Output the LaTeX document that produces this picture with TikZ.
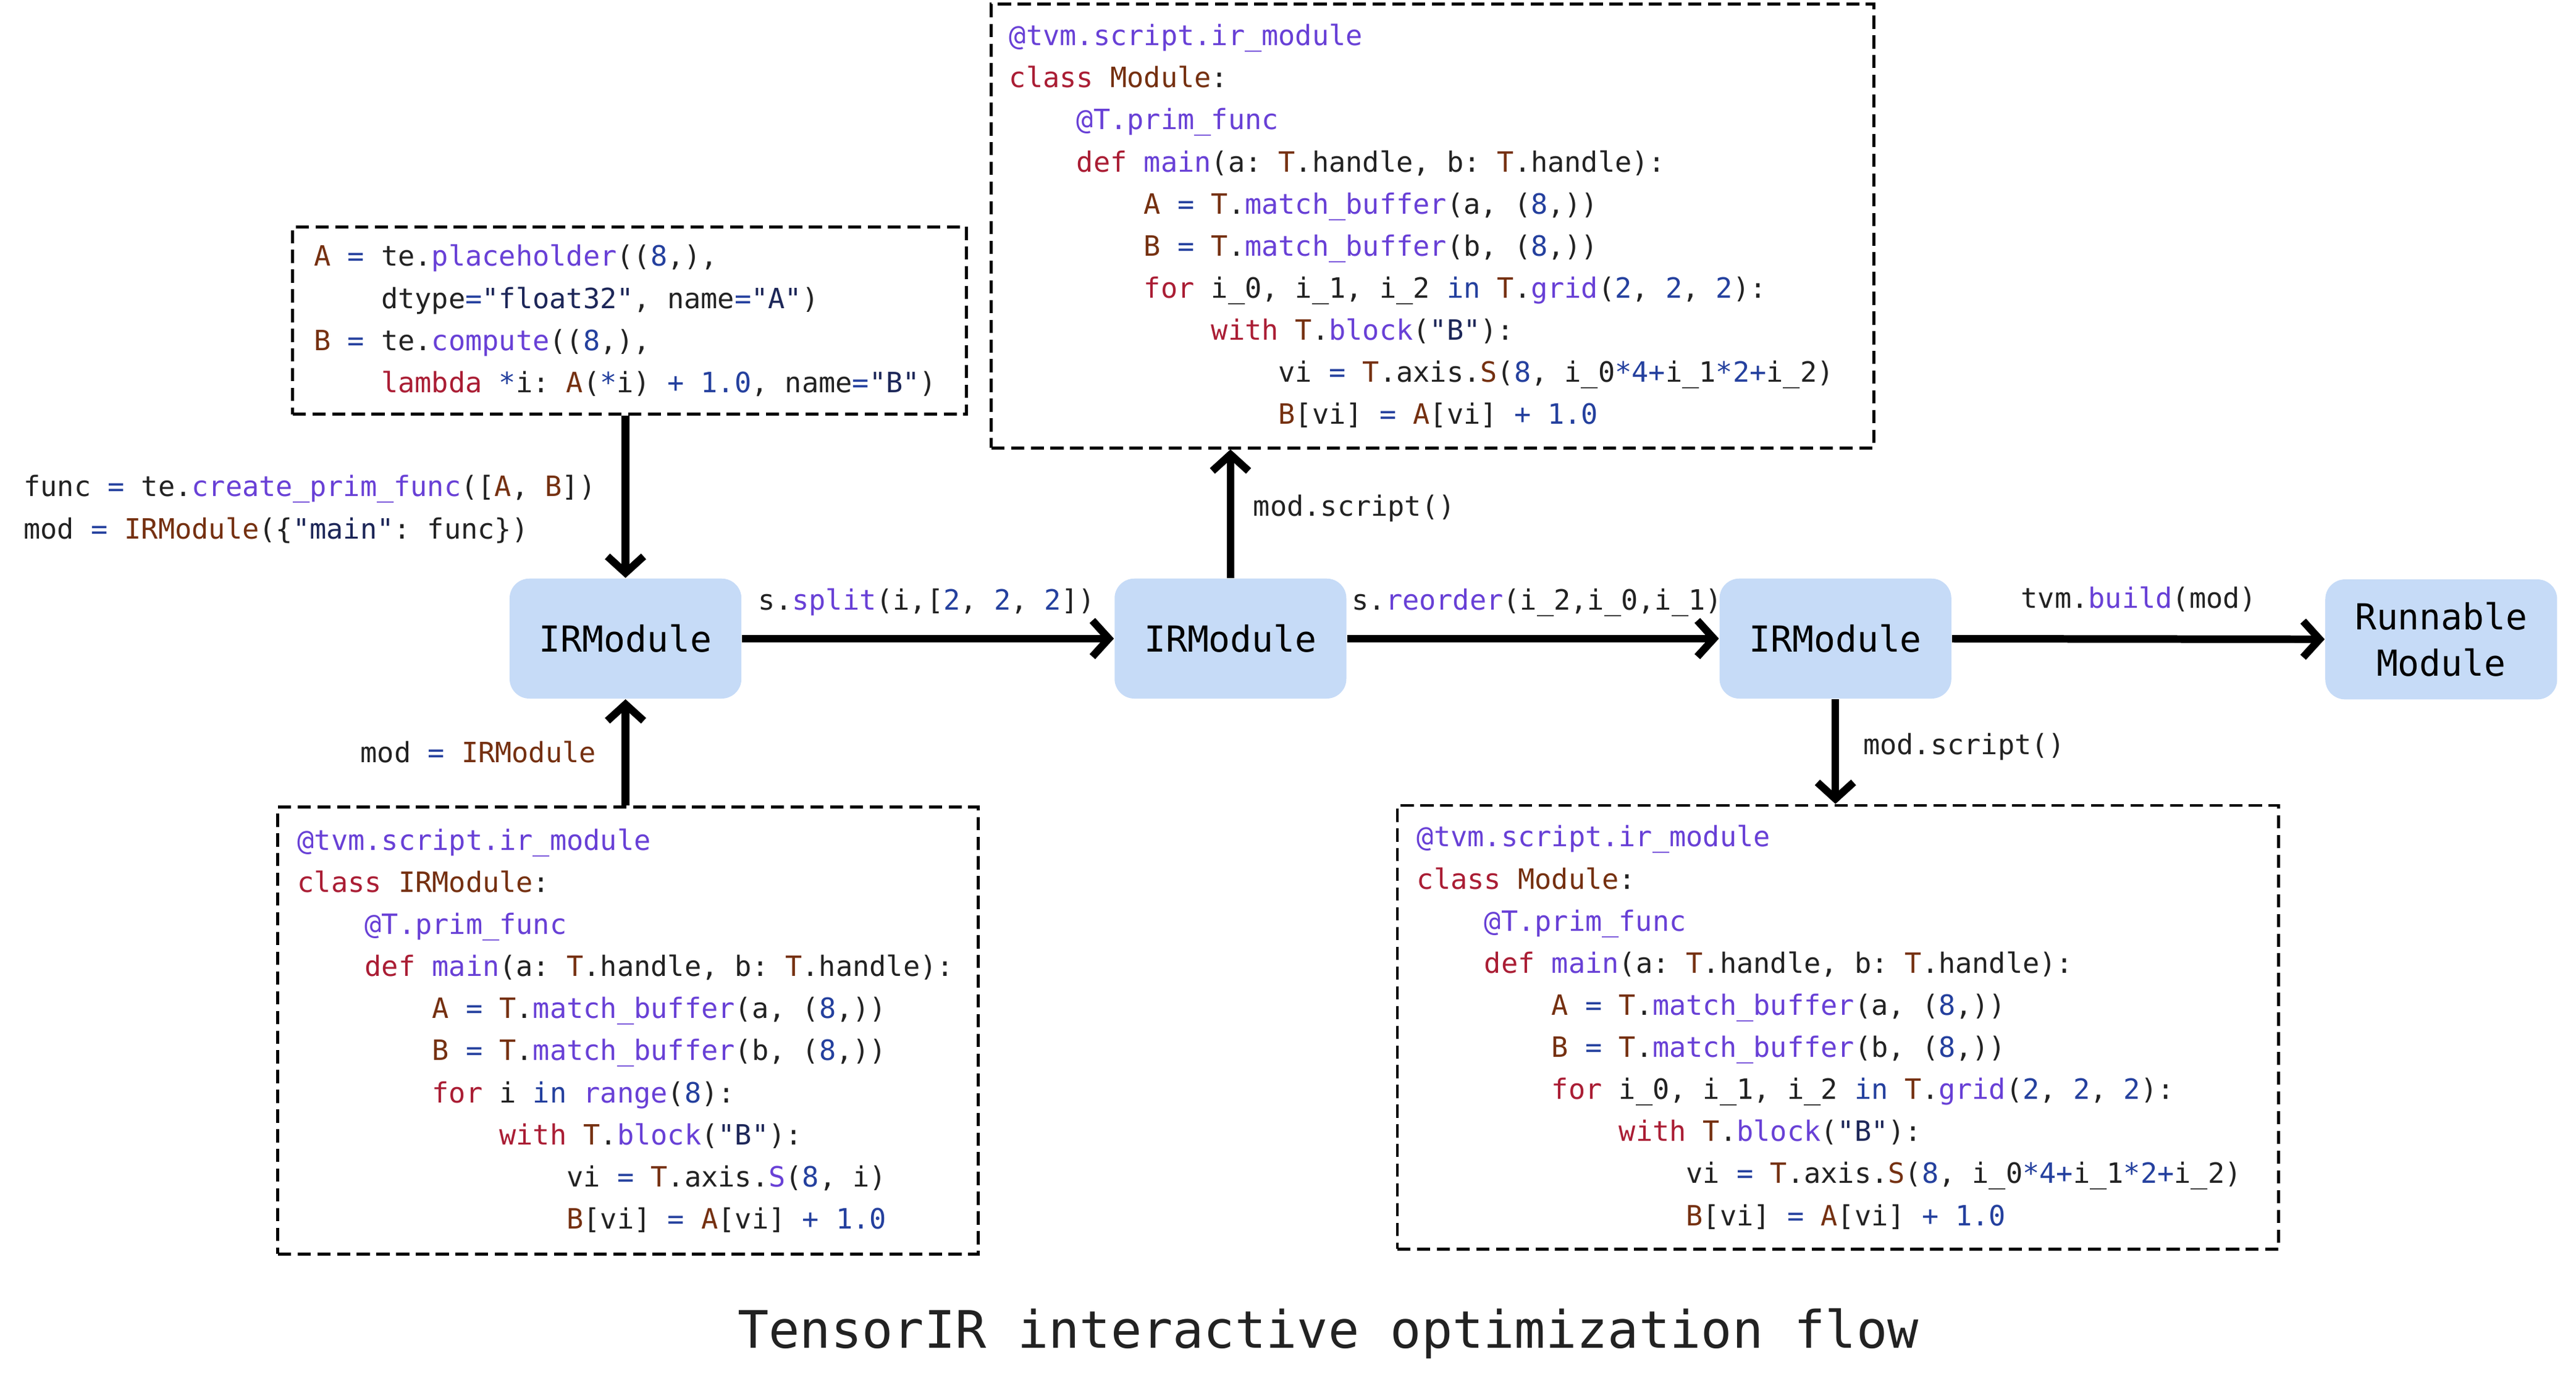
\documentclass[tikz,border=0pt]{standalone}
\usepackage{fontspec}
\usepackage{xcolor}
\usepackage{tikz}
\usetikzlibrary{arrows.meta}
\setmonofont{DejaVu Sans Mono}

\definecolor{kwred}{RGB}{170,29,52}
\definecolor{fnpurple}{RGB}{104,64,214}
\definecolor{tybrown}{RGB}{117,48,16}
\definecolor{numblue}{RGB}{36,64,158}
\definecolor{strnavy}{RGB}{28,38,88}
\definecolor{txtgray}{RGB}{34,34,34}
\definecolor{boxblue}{RGB}{198,219,247}

\newcommand{\kwd}[1]{\textcolor{kwred}{#1}}
\newcommand{\fun}[1]{\textcolor{fnpurple}{#1}}
\newcommand{\typ}[1]{\textcolor{tybrown}{#1}}
\newcommand{\nmb}[1]{\textcolor{numblue}{#1}}
\newcommand{\strg}[1]{\textcolor{strnavy}{#1}}
\newcommand{\ind}{\phantom{xxxx}}
\newcommand{\codefont}{\ttfamily\fontsize{8.5pt}{12.8pt}\selectfont\frenchspacing}
% keep spaces one character wide inside aligned nodes
\newcommand{\monospace}{\spaceskip=\fontcharwd\font`x\relax\xspaceskip=\spaceskip}

% same script printed after split and after reorder
\newcommand{\scriptbody}{%
\fun{@tvm.script.ir\_module}\\
\kwd{class} \typ{Module}:\\
\ind\fun{@T.prim\_func}\\
\ind\kwd{def} \fun{main}(a: \typ{T}.handle, b: \typ{T}.handle):\\
\ind\ind\typ{A} \nmb{=} \typ{T}.\fun{match\_buffer}(a, (\nmb{8},))\\
\ind\ind\typ{B} \nmb{=} \typ{T}.\fun{match\_buffer}(b, (\nmb{8},))\\
\ind\ind\kwd{for} i\_0, i\_1, i\_2 \nmb{in} \typ{T}.\fun{grid}(\nmb{2}, \nmb{2}, \nmb{2}):\\
\ind\ind\ind\kwd{with} \typ{T}.\fun{block}(\strg{"B"}):\\
\ind\ind\ind\ind vi \nmb{=} \typ{T}.axis.\typ{S}(\nmb{8}, i\_0\nmb{*4+}i\_1\nmb{*2+}i\_2)\\
\ind\ind\ind\ind\typ{B}[vi] \nmb{=} \typ{A}[vi] \nmb{+} \nmb{1.0}}

\begin{document}
\begin{tikzpicture}[x=0.5pt, y=-0.5pt,
  codebox/.style={draw, dashed, dash pattern=on 4pt off 2pt, line width=0.9pt, align=left, font=\codefont, text=txtgray, inner ysep=0pt},
  rbox/.style={fill=boxblue, rounded corners=6pt, minimum width=70.5pt, minimum height=36.5pt, inner sep=0pt, font=\ttfamily\fontsize{10.9pt}{14pt}\selectfont},
  lbl/.style={font=\codefont, text=txtgray, inner sep=0pt},
  flowarrow/.style={-{Straight Barb[length=5pt,width=11pt]}, line width=2.3pt}]
  \useasboundingbox (0,0) rectangle (1567,851);

  \node[rbox] (irm1) at (380.5,388.5) {IRModule};
  \node[rbox] (irm2) at (748.5,388.5) {IRModule};
  \node[rbox] (irm3) at (1116.5,388.5) {IRModule};
  \node[rbox, align=center] (run) at (1485,389) {Runnable\\Module};

  \node[codebox, text width=192pt, inner xsep=6.5pt, minimum height=57pt] (te) at (383,195) {\monospace
\typ{A} \nmb{=} te.\fun{placeholder}((\nmb{8},),\\
\ind dtype\nmb{=}\strg{"float32"}, name\nmb{=}\strg{"A"})\\
\typ{B} \nmb{=} te.\fun{compute}((\nmb{8},),\\
\ind\kwd{lambda} \nmb{*}i: \typ{A}(\nmb{*}i) \nmb{+} \nmb{1.0}, name\nmb{=}\strg{"B"})};
  \node[codebox, text width=201pt, inner xsep=6pt, minimum height=136pt] (orig) at (382,627) {\monospace
\fun{@tvm.script.ir\_module}\\
\kwd{class} \typ{IRModule}:\\
\ind\fun{@T.prim\_func}\\
\ind\kwd{def} \fun{main}(a: \typ{T}.handle, b: \typ{T}.handle):\\
\ind\ind\typ{A} \nmb{=} \typ{T}.\fun{match\_buffer}(a, (\nmb{8},))\\
\ind\ind\typ{B} \nmb{=} \typ{T}.\fun{match\_buffer}(b, (\nmb{8},))\\
\ind\ind\kwd{for} i \nmb{in} \fun{range}(\nmb{8}):\\
\ind\ind\ind\kwd{with} \typ{T}.\fun{block}(\strg{"B"}):\\
\ind\ind\ind\ind vi \nmb{=} \typ{T}.axis.\fun{S}(\nmb{8}, i)\\
\ind\ind\ind\ind\typ{B}[vi] \nmb{=} \typ{A}[vi] \nmb{+} \nmb{1.0}};
  \node[codebox, text width=257.5pt, inner xsep=5.5pt, minimum height=135pt] (split) at (871.5,137.5) {\monospace\scriptbody};
  \node[codebox, text width=256pt, inner xsep=6pt, minimum height=135pt] (reord) at (1118,625) {\monospace\scriptbody};

  \node[lbl, anchor=base west] (funcl) at (14,302) {func \nmb{=} te.\fun{create\_prim\_func}([\typ{A}, \typ{B}])};
  \node[lbl, anchor=base west] (modl) at (14,328) {mod \nmb{=} \typ{IRModule}(\{\strg{"main"}: func\})};
  \node[lbl, anchor=base east] (modir) at (363,464) {mod \nmb{=} \typ{IRModule}};
  \node[lbl, anchor=base west] (splitl) at (461,371) {s.\fun{split}(i,[\nmb{2}, \nmb{2}, \nmb{2}])};
  \node[lbl, anchor=base west] (scr1) at (762,314) {mod.script()};
  \node[lbl, anchor=base west] (reordl) at (822,371) {s.\fun{reorder}(i\_2,i\_0,i\_1)};
  \node[lbl, anchor=base west] (buildl) at (1229,370) {tvm.\fun{build}(mod)};
  \node[lbl, anchor=base west] (scr2) at (1133,459) {mod.script()};
  \node[font=\ttfamily\fontsize{15.7pt}{19pt}\selectfont, text=txtgray, anchor=base] (title) at (808,820) {TensorIR interactive optimization flow};

  \draw[flowarrow] (irm1.north |- te.south) -- (irm1.north);
  \draw[flowarrow] (irm1 |- orig.north) -- (irm1.south);
  \draw[flowarrow] (irm1) -- (irm2);
  \draw[flowarrow] (irm2.north) -- (irm2.north |- split.south);
  \draw[flowarrow] (irm2) -- (irm3);
  \draw[flowarrow] (irm3.south) -- (irm3.south |- reord.north);
  \draw[flowarrow] (irm3) -- (run);
\end{tikzpicture}
\end{document}
